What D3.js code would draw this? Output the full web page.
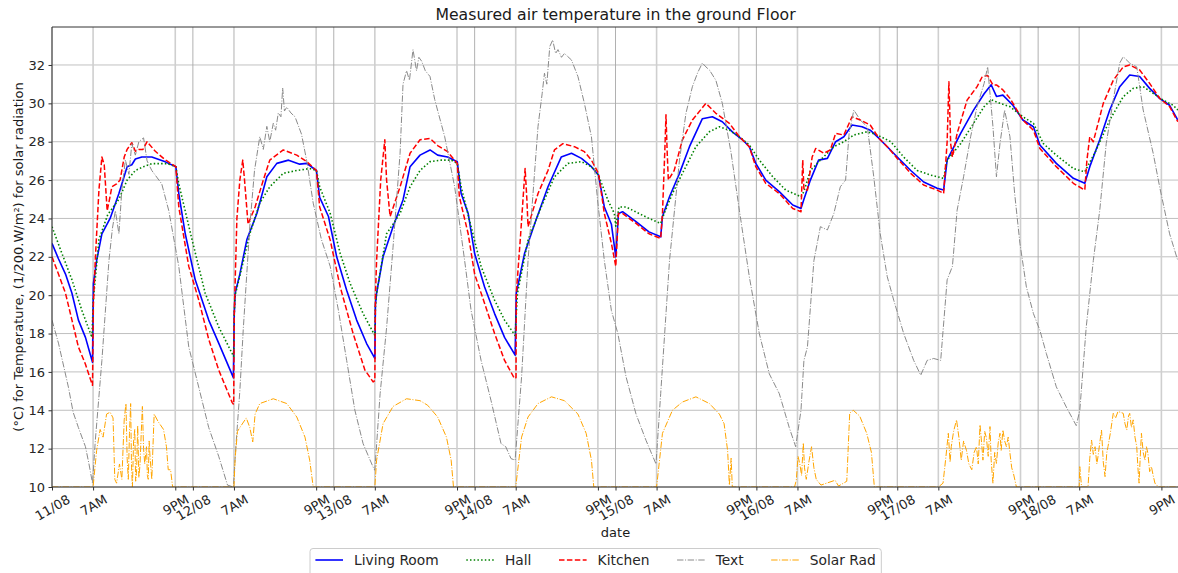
<!DOCTYPE html>
<html><head><meta charset="utf-8">
<script src="https://cdn.jsdelivr.net/npm/d3@7/dist/d3.min.js"></script>
<style>body{margin:0;background:#fff}svg{display:block;font-family:"DejaVu Sans",sans-serif}</style>
</head><body><svg id="c" width="1178" height="573"></svg>
<script>
// time in hours since 11/08 00:00
const livingRoom = [[0,22.7],[1.1,21.9],[2.3,21.1],[3.4,20.1],[4.5,18.7],[5.7,17.8],[6.9,16.5],[7.05,20.6],[7.6,21.8],[8.5,23.2],[9.9,24.0],[11.4,25.3],[12.8,26.7],[13.6,26.8],[14.2,27.1],[15.3,27.2],[17.0,27.2],[19.3,26.95],[21.1,26.7],[21.6,25.3],[22.7,23.2],[24.4,20.8],[26.7,18.7],[28.4,17.5],[30.9,15.7],
[31.05,19.0],[31.2,20.1],[32.0,21.1],[33.2,22.9],[34.9,24.26],[36.6,26.17],[38.3,26.87],[40.3,27.04],[42.2,26.83],[43.4,26.87],[45.05,26.5],[45.6,25.1],[47.1,24.1],[48.5,22.0],[50.2,20.26],[51.9,18.7],[53.6,17.48],[55.0,16.7],[55.1,19.5],[55.3,20.1],[56.4,22.0],[58.1,23.57],[59.8,24.96],[61.0,26.7],[62.7,27.3],[64.4,27.57],
[65.7,27.3],[67.4,27.2],[69.04,26.96],[69.7,25.3],[70.9,24.26],[72.0,22.17],[73.7,20.43],[75.4,19.04],[77.1,17.8],[78.9,16.87],[79.1,20.1],[80.5,22.17],[82.2,23.7],[84.5,25.65],[86.75,27.2],[88.5,27.4],[90.2,27.13],[91.9,26.7],[93.1,26.26],[94.1,24.6],[95.3,23.7],[96.05,22.0],
[96.5,24.26],[97.2,24.35],[99.5,23.83],[101.7,23.3],[103.7,23.04],[104.0,24.1],[105.2,25.13],[106.9,26.35],[108.6,27.74],[110.8,29.2],[112.5,29.3],[114.2,29.04],[115.95,28.5],[117.65,28.1],[118.8,27.74],[119.9,26.87],[121.6,26.0],[123.9,25.4],[126.2,24.7],[127.6,24.52],[128.1,25.0],
[129.2,26.0],[130.6,27.04],[132.1,27.13],[133.5,28.0],[134.9,28.26],[136.3,28.87],[138.0,28.78],[139.4,28.6],[140.9,28.17],[142.3,27.74],[144.0,27.2],[146.3,26.5],[148.5,25.9],[150.8,25.57],[151.9,25.48],[152.5,27.04],[154.8,28.43],[157.0,29.65],[158.8,30.5],[160.0,30.97],[160.9,30.36],[162.0,30.43],[163.7,29.9],[165.4,29.13],[167.2,28.78],[168.3,27.83],[171.1,26.87],[174.0,26.09],[175.95,25.83],[176.8,26.7],[178.5,28.1],[180.2,29.65],[181.9,30.87],[183.6,31.48],[185.3,31.4],[187.0,30.78],[188.7,30.26],[190.4,29.9],[191.8,29.13]];

const hall = [[0,23.57],[1.7,22.17],[3.4,20.8],[5.1,19.2],[6.8,17.8],[7.05,19.8],[8.0,22.9],[9.5,24.2],[11.4,25.0],[12.8,26.0],[14.2,26.5],[15.6,26.7],[17.0,26.86],[19.6,26.86],[21.1,26.7],[21.6,25.8],[23.85,22.9],[26.1,20.1],[28.4,18.35],[30.95,16.8],
[31.05,19.0],[31.2,20.0],[32.0,21.0],[33.7,23.2],[35.4,24.8],[37.1,25.65],[39.4,26.35],[41.7,26.5],[43.9,26.6],[45.05,26.5],[45.6,25.65],[47.4,24.26],[49.1,22.17],[50.8,20.6],[53.0,19.04],[55.0,17.9],[55.1,19.4],[55.3,20.1],[57.0,23.2],[59.3,24.26],[61.0,25.65],[62.7,26.5],[64.4,26.96],
[66.3,27.04],[68.0,27.04],[69.04,26.87],[69.7,25.65],[71.4,23.57],[73.1,21.5],[75.4,19.74],[77.1,18.7],[78.9,17.9],[79.1,19.0],[79.3,20.1],[81.1,22.87],[83.35,24.6],[85.6,26.17],[87.9,26.87],[90.2,26.96],[91.9,26.7],[93.1,26.26],[94.7,24.96],[95.8,24.26],[96.05,23.6],
[96.6,24.6],[97.8,24.6],[100.0,24.26],[101.7,24.0],[103.7,23.74],[104.3,24.26],[105.7,25.3],[107.4,26.35],[109.7,27.74],[112.0,28.52],[113.7,28.78],[115.4,28.6],[117.1,28.26],[118.8,27.83],[120.5,27.04],[122.8,26.17],[125.0,25.48],[127.6,25.13],[128.1,25.4],
[129.2,26.5],[130.9,27.04],[133.2,27.74],[134.9,28.0],[136.6,28.35],[138.9,28.52],[140.6,28.35],[142.9,28.0],[145.1,27.2],[147.4,26.5],[149.7,26.26],[151.9,26.09],[152.5,27.04],[154.8,27.9],[157.0,28.96],[158.8,29.83],[160.0,30.19],[161.5,30.0],[163.2,29.83],[165.4,29.3],[167.2,28.96],[168.9,27.9],[171.1,27.3],[174.0,26.6],[175.95,26.43],[177.9,27.57],[180.2,29.13],[182.5,30.35],[184.2,30.78],[185.9,30.87],[187.6,30.52],[189.3,30.17],[191.0,29.9],[191.8,29.65]];

const kitchen = [[0,22.0],[1.1,21.1],[2.3,20.1],[3.4,18.7],[4.5,17.3],[5.7,16.4],[6.9,15.3],[7.05,19.5],[7.4,22.0],[8.0,25.5],[8.5,27.2],[8.9,26.8],[9.4,24.4],[9.8,25.0],[10.2,25.65],[11.0,25.8],[11.6,26.0],[12.3,27.2],[12.8,27.6],[13.6,27.95],[14.2,27.5],[14.8,27.6],[15.5,27.6],[16.2,28.0],[17.6,27.5],[19.3,27.05],[21.1,26.7],[21.6,24.6],[23.3,21.5],[25.0,19.75],[26.7,17.7],[28.4,16.1],[30.7,14.4],[30.95,14.3],
[31.05,19.0],[31.5,24.0],[32.0,26.0],[32.5,27.04],[32.8,26.0],[33.4,23.7],[34.6,24.6],[36.0,26.0],[37.1,27.04],[39.4,27.57],[41.7,27.3],[43.4,26.96],[45.05,26.5],[45.6,24.6],[47.4,22.87],[49.1,20.43],[51.3,18.0],[53.3,16.1],[54.7,15.48],[55.0,15.55],[55.1,20.0],[55.3,21.8],[56.0,26.0],[56.7,28.1],[57.0,26.0],[57.6,24.1],[59.3,25.65],[61.0,27.4],[62.7,28.1],[64.4,28.17],
[65.7,27.8],[67.4,27.48],[69.04,26.87],[69.4,25.13],[70.9,23.2],[72.0,21.1],[73.7,19.57],[75.4,18.0],[77.1,16.6],[78.8,15.65],[79.05,15.7],[79.1,20.1],[79.8,23.0],[80.6,26.6],[80.9,25.0],[81.1,23.57],[82.8,25.3],[84.5,26.5],[85.6,27.57],[87.04,27.9],[89.0,27.74],[90.7,27.48],[91.9,27.04],[93.1,26.35],[94.1,24.26],[95.3,22.7],[96.05,21.5],
[96.5,24.26],[97.2,24.26],[99.5,23.74],[101.7,23.2],[103.7,22.96],[104.0,24.26],[104.4,27.5],[104.6,29.4],[104.8,27.5],[105.0,26.0],[106.0,26.5],[107.4,28.1],[109.1,29.13],[111.4,30.0],[113.1,29.48],[115.4,28.96],[117.1,28.26],[118.8,27.74],[119.9,26.7],[121.6,25.83],[123.9,25.3],[126.2,24.52],[127.6,24.35],[127.9,27.04],[128.1,25.5],[128.7,25.48],
[129.5,27.2],[130.1,27.65],[131.5,27.4],[132.6,27.57],[133.5,28.43],[134.9,28.35],[136.3,29.3],[137.7,29.13],[139.4,28.87],[140.9,28.17],[142.3,27.74],[144.0,27.13],[146.3,26.35],[148.5,25.74],[150.8,25.48],[151.9,25.3],[152.5,28.0],[152.8,31.13],[153.1,27.9],[153.4,27.2],[154.2,28.43],[155.9,30.17],[157.6,30.87],[158.5,31.4],[159.4,31.45],[160.3,30.96],[160.9,30.96],[162.0,30.7],[163.2,30.26],[165.4,29.13],[167.2,28.6],[168.3,27.65],[171.1,26.7],[174.0,25.83],[175.95,25.48],[176.3,27.0],[176.8,28.26],[177.4,28.0],[179.1,30.0],[180.8,31.2],[182.5,31.9],[183.6,32.0],[185.3,31.74],[187.0,31.04],[188.7,30.26],[190.4,29.83],[191.8,29.04]];

const textOut = [[0,18.7],[1.1,17.5],[2.8,15.2],[3.6,13.9],[4.5,13.1],[5.7,12.1],[6.3,11.2],[6.9,10.2],[7.4,12.5],[8.5,16.6],[9.7,21.8],[10.3,23.5],[10.8,24.4],[11.4,23.2],[11.9,25.5],[12.5,27.05],[13.1,26.3],[13.6,27.9],[14.2,27.3],[14.8,28.0],[15.6,28.2],[16.2,27.0],[17.0,26.5],[18.7,25.8],[19.9,24.4],[21.6,21.5],[23.3,17.3],[25.0,15.2],[26.7,13.1],[28.4,11.6],[29.9,10.1],[30.9,10.0],
[31.3,12.0],[32.0,15.0],[32.6,18.3],[33.7,23.6],[34.5,26.5],[35.4,28.26],[36.0,27.6],[36.6,28.8],[37.1,28.0],[37.7,28.96],[38.1,28.6],[38.55,29.5],[39.0,29.3],[39.3,30.8],[39.6,29.6],[40.0,29.8],[40.7,29.5],[41.4,29.3],[42.5,28.4],[43.4,27.0],[44.5,24.8],[45.9,22.9],[47.4,21.5],[48.8,19.2],[50.2,16.6],[51.6,14.0],[53.0,12.26],[54.7,11.04],[55.0,10.87],[55.9,14.87],[57.0,18.3],[58.1,22.5],[59.3,27.4],[59.8,31.0],[60.4,31.7],[60.9,31.2],[61.5,32.8],[62.1,31.7],[62.5,32.4],[62.97,32.2],[63.6,31.7],[64.4,31.4],
[65.2,30.2],[66.9,28.26],[68.6,25.65],[70.3,21.8],[71.4,19.2],[73.1,16.6],[74.8,14.5],[76.5,12.26],[77.3,12.1],[78.2,11.48],[78.9,11.4],[80.0,15.74],[81.1,21.8],[82.8,28.8],[83.5,30.5],[83.9,31.57],[84.3,31.0],[84.8,32.96],[85.3,33.3],[85.8,32.6],[86.2,32.8],[86.8,32.4],[87.3,32.6],[88.5,32.26],[89.6,31.4],[90.7,30.0],[91.9,28.26],[93.0,24.8],[94.1,21.8],[95.3,19.2],[96.4,18.0],
[97.8,15.74],[99.5,13.8],[101.2,12.43],[102.9,11.2],[103.7,14.87],[105.2,21.8],[106.9,27.04],[108.0,29.48],[109.1,30.87],[110.0,31.6],[110.8,32.1],[111.4,31.9],[112.0,31.74],[113.1,31.2],[114.2,30.0],[115.7,27.4],[117.1,24.43],[118.8,20.96],[120.5,18.0],[122.2,15.9],[123.9,14.87],[125.6,13.1],[126.7,12.1],[127.6,14.0],[128.1,16.6],
[128.7,17.3],[129.8,21.8],[130.9,23.57],[132.1,23.4],[133.2,24.26],[134.3,25.65],[135.2,26.0],[135.8,28.43],[136.6,29.65],[137.7,29.13],[138.9,28.78],[140.0,26.17],[141.1,23.2],[142.3,20.96],[143.4,19.74],[145.1,18.0],[146.8,16.6],[148.0,15.83],[149.1,16.6],[150.2,16.7],[151.4,16.6],[152.5,20.8],[153.4,21.5],[154.2,24.43],[155.3,26.17],[156.5,28.26],[157.6,29.83],[158.8,31.04],[159.4,31.9],[160.3,28.8],[160.9,26.17],[161.5,27.9],[162.3,29.65],[163.2,28.26],[164.0,25.3],[164.9,22.7],[166.0,20.43],[167.2,19.04],[168.3,18.17],[169.4,16.96],[171.1,15.22],[172.8,14.17],[174.5,13.2],[175.1,14.0],[176.2,18.35],[177.4,21.8],[178.5,24.43],[179.6,27.9],[180.8,30.17],[181.9,32.1],[182.5,32.43],[183.6,32.1],[184.8,31.9],[185.9,29.65],[187.6,27.4],[188.7,25.65],[190.4,23.2],[191.8,21.8]];

const solarRad = [[0,10],[7.0,10],[7.6,11.9],[8.2,13.0],[8.7,12.6],[9.3,13.8],[9.9,13.9],[10.4,13.6],[10.7,10.4],[11.0,10.2],[11.5,11.2],[11.9,10.4],[12.3,13.5],[12.6,14.35],[12.8,11.5],[13.0,10.4],[13.2,12.8],[13.4,14.35],[13.55,11.0],[13.7,10.0],[13.9,12.4],[14.1,13.0],[14.25,10.3],[14.4,10.7],[14.6,13.2],[14.8,10.5],[15.0,11.2],[15.2,12.8],[15.4,14.2],[15.6,12.0],[15.8,11.2],[16.1,12.1],[16.25,10.6],[16.4,10.4],[16.55,12.4],[16.7,11.6],[16.85,11.0],[17.0,10.4],[17.4,13.8],[18.1,13.4],[19.0,13.0],[19.5,12.1],[19.8,10.9],[20.2,10.9],[20.55,10],[31.0,10],
[31.2,11.5],[31.6,12.9],[32.0,13.1],[33.1,13.6],[33.7,13.1],[34.2,12.35],[34.6,13.8],[35.4,14.35],[37.7,14.6],[40.0,14.35],[41.7,13.65],[43.1,12.6],[43.9,11.4],[44.5,10],[55.0,10],
[55.3,11.4],[56.4,13.3],[58.1,14.2],[60.4,14.6],[62.7,14.5],[64.0,14.26],[65.7,13.65],[67.2,12.6],[68.0,11.4],[68.4,10],[79.0,10],
[80.0,12.6],[81.1,13.65],[82.8,14.35],[85.1,14.7],[87.3,14.5],[89.6,13.8],[91.0,12.8],[91.9,11.4],[92.3,10],[103.0,10],
[104.0,12.8],[105.7,14.0],[107.4,14.43],[109.7,14.7],[112.0,14.35],[113.7,13.8],[114.5,13.3],[115.1,11.9],[115.4,10.1],[115.7,11.5],[115.9,10.0],[126.5,10],
[126.8,10.35],[127.1,11.6],[127.4,11.2],[127.7,10.6],[128.0,12.3],[128.2,11.0],[128.5,10.4],[129.0,11.4],[129.4,12.1],[129.8,11.0],[130.2,10.4],[131.0,10.1],[133.4,10.35],[134.0,10.05],[135.4,10.3],[135.9,13.85],[136.5,14.0],[137.6,13.7],[138.8,12.8],[139.6,11.8],[140.1,10.0],[151.0,10.0],
[151.8,10.2],[152.3,11.6],[152.7,12.8],[153.0,11.3],[153.2,12.1],[153.6,12.9],[154.1,13.5],[154.5,12.6],[154.9,11.4],[155.3,12.4],[155.8,11.9],[156.2,11.2],[156.7,10.9],[157.1,11.8],[157.5,12.1],[157.8,11.2],[158.1,13.24],[158.4,12.2],[158.6,11.4],[158.9,12.9],[159.2,12.54],[159.5,11.6],[159.8,13.15],[160.0,11.4],[160.3,10.2],[160.6,11.8],[160.9,11.23],[161.2,12.3],[161.5,12.8],[161.7,11.9],[162.0,12.97],[162.3,12.4],[162.6,12.1],[162.9,12.6],[163.2,11.76],[163.5,11.0],[163.8,10.7],[164.3,10.0],[175.0,10],
[175.1,11.06],[175.4,10],[176.5,10],[176.8,11.5],[177.1,12.45],[177.4,11.7],[177.7,12.1],[178.0,11.2],[178.2,11.58],[178.5,12.3],[178.8,12.97],[179.1,11.3],[179.4,10.54],[179.7,11.8],[179.9,12.1],[180.3,12.8],[180.8,13.84],[181.2,13.6],[181.6,13.93],[182.0,13.9],[182.5,13.84],[182.8,13.3],[183.1,12.97],[183.4,13.7],[183.6,13.84],[183.9,13.1],[184.2,13.5],[184.5,12.6],[184.8,12.1],[185.0,11.0],[185.2,10.2],[185.4,11.6],[185.6,12.8],[185.9,11.8],[186.2,11.4],[186.45,12.1],[186.7,11.76],[187.0,10.8],[187.3,11.06],[187.6,10.6],[187.9,10.2],[188.5,10],[191.8,10]];

const dayLabels = ["11/08","12/08","13/08","14/08","15/08","16/08","17/08","18/08"];
const hourLabels = ["7AM","9PM"];
const hourOffsets = [7,21];
const yTicks = [10,12,14,16,18,20,22,24,26,28,30,32];
const seriesNames = ["Living Room","Hall","Kitchen","Text","Solar Rad"];

const svg = d3.select("#c");
svg.append("rect").attr("width",1178).attr("height",573).attr("fill","#fff");
const L=52, R=1179, T=27, B=487;
const base = new Date(2023,7,11,0,0,0);
const toDate = h => new Date(base.getTime()+h*3600000);
const x = d3.scaleTime().domain([toDate(0),toDate(192)]).range([L,R]);
const y = d3.scaleLinear().domain([10,33.98]).range([B,T]);

const ticks=[];
dayLabels.forEach((lab,i)=>{
  ticks.push({d:toDate(i*24),label:lab,major:true});
  hourOffsets.forEach((o,j)=>ticks.push({d:toDate(i*24+o),label:hourLabels[j],major:false}));
});
const tickDates = ticks.map(t=>t.d);
const labelOf = new Map(ticks.map(t=>[+t.d,t.label]));

const grid = svg.append("g");
grid.selectAll(".hg").data(yTicks).join("line")
  .attr("x1",L).attr("x2",R).attr("y1",d=>y(d)).attr("y2",d=>y(d))
  .attr("stroke","#b0b0b0").attr("stroke-width",0.8);
grid.selectAll(".vg").data(ticks).join("line")
  .attr("x1",d=>x(d.d)).attr("x2",d=>x(d.d)).attr("y1",T).attr("y2",B)
  .attr("stroke",d=>d.major?"#a8a8a8":"#cfcfcf").attr("stroke-width",d=>d.major?0.9:1.6);

svg.append("clipPath").attr("id","clip").append("rect").attr("x",L).attr("y",T).attr("width",R-L).attr("height",B-T);

const line = d3.line().x(d=>x(toDate(d[0]))).y(d=>y(d[1]));
const styles = [
  {data:livingRoom,color:"#0000ff",w:1.6,dash:null},
  {data:hall,color:"#008000",w:1.6,dash:"1.5,2.2"},
  {data:kitchen,color:"#ff0000",w:1.5,dash:"5.5,2.4"},
  {data:textOut,color:"#8a8a8a",w:1,dash:"6.4,1.6,1,1.6"},
  {data:solarRad,color:"#ffa500",w:1,dash:"6.4,1.6,1,1.6"}
];
const lg = svg.append("g").attr("clip-path","url(#clip)");
styles.forEach(s=>{
  lg.append("path").datum(s.data).attr("d",line).attr("fill","none")
    .attr("stroke",s.color).attr("stroke-width",s.w)
    .attr("stroke-dasharray",s.dash).attr("stroke-linejoin","round");
});

const yAxis = d3.axisLeft(y).tickValues(yTicks).tickSize(3.5).tickPadding(3.5).tickSizeOuter(0).tickFormat(d3.format("d"));
const gy = svg.append("g").attr("transform",`translate(${L},0)`).call(yAxis);
gy.select(".domain").remove();
gy.selectAll("text").attr("font-size","13px").attr("fill","#262626").attr("font-family","DejaVu Sans");
gy.selectAll("line").attr("stroke","#333");

const xAxis = d3.axisBottom(x).tickValues(tickDates).tickSize(3.5).tickSizeOuter(0).tickFormat(d=>labelOf.get(+d));
const gx = svg.append("g").attr("transform",`translate(0,${B})`).call(xAxis);
gx.select(".domain").remove();
gx.selectAll("line").attr("stroke","#333");
gx.selectAll("text").attr("font-size","13px").attr("fill","#262626").attr("font-family","DejaVu Sans")
  .each(function(){
    const t=d3.select(this);
    const w=this.getComputedTextLength();
    const H = w*0.5 + 9.5*0.866;
    t.attr("y",null).attr("dy","0.36em").attr("text-anchor","middle")
     .attr("transform",`translate(0,${7+H/2}) rotate(-30)`);
  });

svg.append("path").attr("d",`M${L},${T}H${R}M${L},${T}V${B}H${R}`).attr("fill","none").attr("stroke","#333").attr("stroke-width",1);

svg.append("text").attr("x",615.5).attr("y",20).attr("text-anchor","middle").attr("font-size","15.7px").attr("fill","#1a1a1a").text("Measured air temperature in the ground Floor");
svg.append("text").attr("x",615.5).attr("y",537).attr("text-anchor","middle").attr("font-size","13px").attr("fill","#1a1a1a").text("date");
svg.append("text").attr("transform","translate(23,257) rotate(-90)").attr("text-anchor","middle").attr("font-size","13px").attr("fill","#1a1a1a").text("(°C) for Temperature, (1/200.W/m²) for solar radiation");

const leg = svg.append("g");
const legBox = leg.append("rect").attr("x",310).attr("y",548.5).attr("height",34).attr("rx",3)
  .attr("fill","#fff").attr("fill-opacity",0.8).attr("stroke","#cccccc").attr("stroke-width",1);
let lx = 315.4;
const ly = 560;
styles.forEach((s,i)=>{
  leg.append("line").attr("x1",lx).attr("x2",lx+27.6).attr("y1",ly).attr("y2",ly)
    .attr("stroke",s.color).attr("stroke-width",s.w).attr("stroke-dasharray",s.dash);
  const t = leg.append("text").attr("x",lx+27.6+11).attr("y",ly).attr("dy","0.36em")
    .attr("font-size","13.8px").attr("fill","#262626").text(seriesNames[i]);
  const w = t.node().getComputedTextLength();
  lx = lx+27.6+11+w+27.6;
  if(i===styles.length-1) legBox.attr("width", (lx-27.6+5.5)-310);
});
</script></body></html>
